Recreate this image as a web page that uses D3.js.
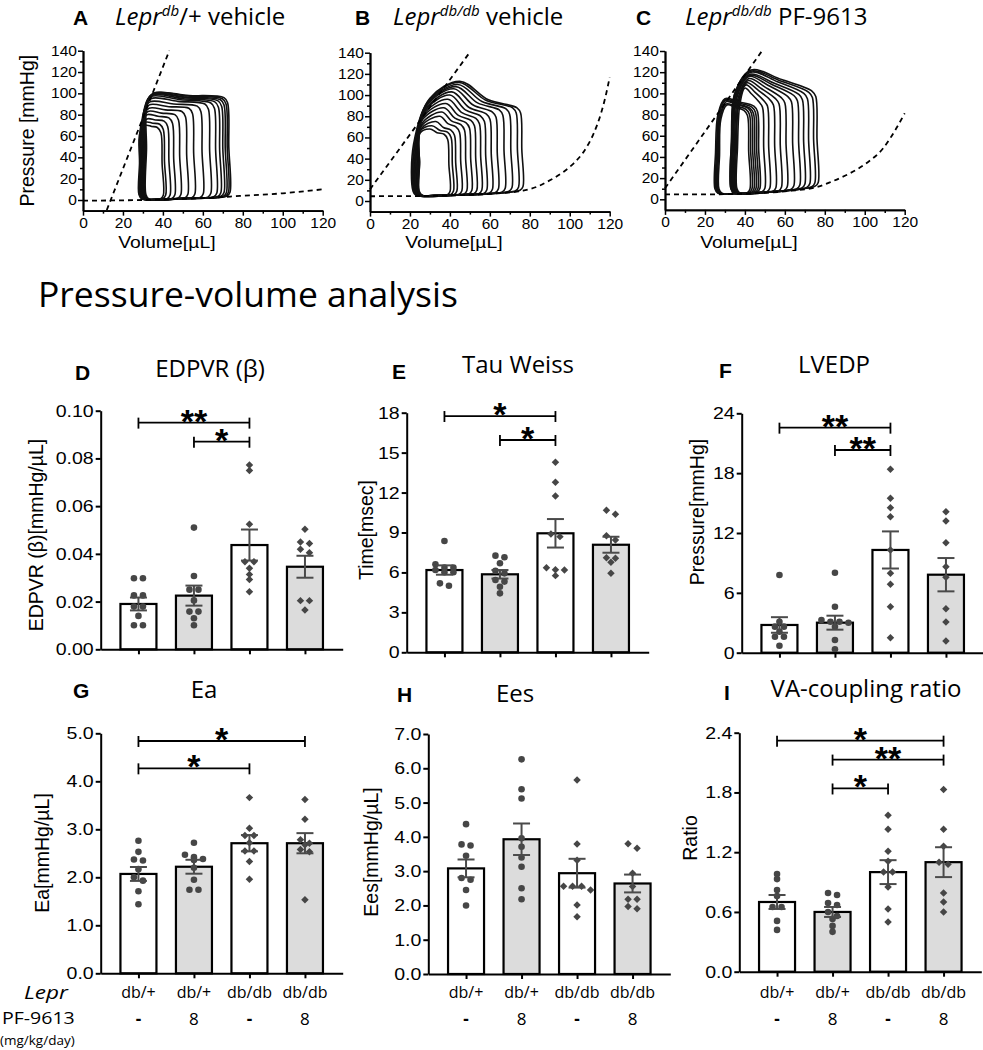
<!DOCTYPE html>
<html><head><meta charset="utf-8">
<script src="https://cdn.jsdelivr.net/npm/d3@7"></script>
<style>body{margin:0;background:#fff}svg{display:block}</style>
</head><body><svg id="c" width="983" height="1050"></svg>
<script>
// ---------------- DATA ----------------
const groupIds = ["g1","g2","g3","g4"];
const leprGenotype = ["db/+","db/+","db/db","db/db"];
const pf9613Dose = ["-","8","-","8"];

// D: EDPVR (beta)
const edpvrValues = [
  [0.0298,0.0298,0.0226,0.0226,0.0179,0.0179,0.014,0.0101,0.0101],
  [0.051,0.0307,0.025,0.025,0.0205,0.0158,0.0158,0.013,0.0101],
  [0.0772,0.0749,0.0524,0.0367,0.0367,0.034,0.0314,0.0293,0.0241],
  [0.0503,0.045,0.0443,0.0419,0.0405,0.0204,0.0204,0.0165]
];
const edpvrMean = [0.019,0.0225,0.0437,0.0346];
const edpvrSem = [0.0027,0.0042,0.0065,0.0046];
const edpvrSig = [[0,2,0.095,"**"],[1,2,0.087,"*"]];
const edpvrTicks = [0,0.02,0.04,0.06,0.08,0.10];

// E: Tau Weiss
const tauValues = [
  [8.36,6.61,6.36,6.36,6.18,6.01,6.01,5.18,5.0],
  [7.26,7.14,6.69,6.13,5.93,5.43,5.31,4.93,4.43],
  [14.27,12.77,11.74,8.89,8.69,6.36,6.21,6.18,5.76],
  [10.67,10.37,8.76,8.44,7.11,7.06,6.76,5.93]
];
const tauMean = [6.18,5.86,8.94,8.08];
const tauSem = [0.35,0.32,1.07,0.6];
const tauSig = [[0,2,17.75,"*"],[1,2,15.95,"*"]];
const tauTicks = [0,3,6,9,12,15,18];

// F: LVEDP
const lvedpValues = [
  [7.79,3.11,2.61,2.61,2.11,1.6,1.6,0.7],
  [8.02,4.61,3.28,3.11,3.11,3.0,2.6,1.27,0.34],
  [18.38,15.48,14.54,13.64,10.3,7.96,6.86,4.61,1.5],
  [14.14,13.2,11.03,8.62,7.56,4.41,3.08,1.17]
];
const lvedpMean = [2.78,3.01,10.3,7.82];
const lvedpSem = [0.78,0.7,1.86,1.67];
const lvedpSig = [[0,2,22.56,"**"],[1,2,20.32,"**"]];
const lvedpTicks = [0,6,12,18,24];

// G: Ea
const eaValues = [
  [2.76,2.53,2.37,2.35,2.17,2.0,1.93,1.71,1.44],
  [2.72,2.47,2.42,2.38,2.36,2.2,1.95,1.74,1.74],
  [3.66,3.02,2.87,2.87,2.72,2.55,2.55,2.33,1.96],
  [3.62,3.21,2.78,2.71,2.68,2.58,2.53,1.53]
];
const eaMean = [2.07,2.22,2.71,2.71];
const eaSem = [0.145,0.145,0.17,0.21];
const eaSig = [[0,3,4.84,"*"],[0,2,4.27,"*"]];
const eaTicks = [0,1,2,3,4,5];

// H: Ees
const eesValues = [
  [4.37,3.78,3.75,3.45,2.8,2.75,2.45,2.0],
  [6.26,5.39,5.12,3.96,3.71,3.4,3.13,2.5,2.18],
  [5.66,3.79,3.32,2.56,2.56,2.56,2.45,2.01,1.67],
  [3.8,3.67,2.94,2.55,2.18,2.18,1.97,1.9]
];
const eesMean = [3.08,3.93,2.94,2.64];
const eesSem = [0.26,0.46,0.42,0.26];
const eesSig = [];
const eesTicks = [0,1,2,3,4,5,6,7];

// I: VA-coupling ratio
const vaValues = [
  [0.98,0.93,0.82,0.76,0.65,0.65,0.51,0.42],
  [0.79,0.77,0.69,0.67,0.6,0.56,0.53,0.46,0.40],
  [1.57,1.43,1.21,1.11,1.0,1.0,0.85,0.63,0.5],
  [1.83,1.43,1.26,1.1,1.08,0.79,0.70,0.60]
];
const vaMean = [0.70,0.60,1.0,1.10];
const vaSem = [0.07,0.05,0.12,0.15];
const vaSig = [[0,3,2.32,"*"],[1,3,2.13,"**"],[1,2,1.84,"*"]];
const vaTicks = [0,0.6,1.2,1.8,2.4];

// A-C: pressure-volume loops  [ESV, EDV, V_shoulder, P_shoulder, V_peak, P_peak, P_topRight]
const volTicks = [0,20,40,60,80,100,120];
const presTicks = [0,20,40,60,80,100,120,140];
const loopsA = [
  [31.5,73.6,32.0,88,35.5,100,96],[31.0,72.8,31.5,87,35.0,100,95],
  [31.0,71.8,31.5,87,35.0,99,94],[30.5,70.6,31.0,86,34.5,99,93],
  [30.5,69.0,31.0,85,34.5,98,92],[30.0,67.0,30.5,84,34.0,97,91],
  [30.0,64.0,30.5,82,34.0,95,90],[29.5,60.2,30.0,80,33.5,92,88],
  [29.5,56.0,30.0,77,33.0,89,86],[29.0,52.5,29.5,74,33.0,86,83],
  [29.0,49.0,29.5,72,32.5,83,80],[28.5,46.0,29.0,70,32.0,80,77],
  [28.5,43.6,29.0,67,32.0,76,74],[28.5,41.4,29.0,65,31.5,73,71],
  [28.0,40.2,28.5,63,31.5,70,68]
];
const espvrA = [[11.9,-9.4],[43.2,140]];
const edpvrCurveA = [[0,-0.6],[20,-0.3],[40,0.5],[60,1.8],[78.6,3.8],[100,6.3],[120,10]];
const loopsB = [
  [21.5,76.6,30,97,45,113,88],[22,74.4,29.5,95,44.5,112,88],
  [22,71.1,29,93,44,110,87],[22.5,67.7,28.5,91,43,108,86],
  [22.5,64.3,28,89,42,106,84],[23,61.3,28,87,41,103,82],
  [23,58.5,27.5,85,40,100,80],[23,56.0,27,82,39,96,78],
  [23.5,53.5,26.5,79,38,92,76],[23.5,51.0,26,76,37,88,74],
  [24,48.5,26,73,36,84,72],[24,46.0,25.5,70,35,80,70],
  [24,43.5,25.5,68,33,75,67],[24.5,41.8,25,66,31,71,65],
  [24.5,40.1,25,64,30,68,63]
];
const espvrB = [[0,11],[50.2,141]];
const edpvrCurveB = [[0,4.5],[20,4.6],[40,5.2],[60,6.8],[76.6,9.7],[83.6,13.5],[90.3,19.8],[97,27.7],[102,35.6],[107,46.6],[112,63.9],[115.4,81.2],[117.9,98.5],[120,116.8]];
const loopsC = [
  [33,76.7,35,100,43,122,102],[33,75,35,100,43,121,101],
  [33.5,72.5,35.5,100,43,120,100],[33.5,70,35.5,98,42.5,118,99],
  [34,67.5,36,98,42.5,117,98],[34,64.5,36,96,42,116,97],
  [34.5,61.2,36.5,95,42,114,96],[35,58.3,37,94,41.5,112,95],
  [35,55.5,37,93,41,110,94],[35.5,52.5,37,92,40.5,108,93],
  [36,50,37.5,90,40,105,92],
  [25,47.5,26.5,80,30,95,88],[25.5,46.5,27,80,30,94,87],
  [26,45.5,27,78,30,93,86],[26,44.5,27.5,78,30.5,92,86],
  [26.5,43.5,27.5,76,30.5,90,85],[27,42.5,28,76,31,89,84]
];
const espvrC = [[0,10.4],[48.3,139.4]];
const edpvrCurveC = [[0,4.7],[20,4.7],[40,5.3],[60,7.5],[76.7,11.9],[83.3,16.6],[92.5,24.5],[100.8,34],[109.2,48.2],[115.8,67],[120,81.2]];

// ---------------- DRAWING ----------------
const ARIAL = "'Liberation Sans', Arial, Helvetica, sans-serif";
const OPEN = "'Open Sans', 'Noto Sans', sans-serif";
const svg = d3.select("#c");

function txt(parent, x, y, s, o = {}) {
  let tr = `translate(${x},${y})`;
  if (o.rot) tr += ` rotate(${o.rot})`;
  if (o.sx) tr += ` scale(${o.sx},1)`;
  const t = parent.append("text").attr("transform", tr)
    .attr("font-family", o.family || ARIAL).attr("font-size", o.size || 16)
    .attr("text-anchor", o.anchor || "start").attr("fill", "#000");
  if (o.weight) t.attr("font-weight", o.weight);
  if (o.style) t.attr("font-style", o.style);
  t.text(s);
  return t;
}

function swarm(vals, y, spacing, tol) {
  const sorted = vals.map(v => ({v, py: y(v)})).sort((a, b) => a.py - b.py);
  const rows = []; let cur = null;
  sorted.forEach(d => {
    if (cur && d.py - cur.start < tol) cur.items.push(d);
    else { cur = {start: d.py, items: [d]}; rows.push(cur); }
  });
  const out = [];
  rows.forEach(r => { const n = r.items.length; r.items.forEach((d, k) => out.push({py: d.py, dx: (k - (n - 1) / 2) * spacing})); });
  return out;
}

function barPanel(p) {
  const g = svg.append("g");
  const x = d3.scalePoint().domain(groupIds).range([p.x0, p.x0 + 242]).padding(0.68);
  const y = d3.scaleLinear().domain([0, p.max]).range([p.y0, p.y1]);
  const bw = 36;
  g.selectAll("rect.bar").data(p.means).join("rect").attr("class", "bar")
    .attr("x", (d, i) => x(groupIds[i]) - bw / 2).attr("width", bw)
    .attr("y", d => y(d)).attr("height", d => p.y0 - y(d))
    .attr("fill", (d, i) => i % 2 ? "#dcdcdc" : "#fff")
    .attr("stroke", "#000").attr("stroke-width", 2.2);
  p.values.forEach((vals, i) => {
    const cx = x(groupIds[i]);
    const pts = swarm(vals, y, 9, 4.5);
    pts.forEach(d => {
      if (i < 2) {
        g.append("circle").attr("cx", cx + d.dx).attr("cy", d.py).attr("r", 3.3).attr("fill", "#464646");
      } else {
        g.append("path").attr("d", d3.symbol(d3.symbolSquare, 28)())
          .attr("transform", `translate(${cx + d.dx},${d.py}) rotate(45)`).attr("fill", "#464646");
      }
    });
  });
  p.means.forEach((m, i) => {
    const cx = x(groupIds[i]), lo = y(m - p.sems[i]), hi = y(m + p.sems[i]);
    const eg = g.append("g").attr("stroke", "#4a4a4a").attr("stroke-width", 2);
    eg.append("line").attr("x1", cx).attr("x2", cx).attr("y1", lo).attr("y2", hi);
    eg.append("line").attr("x1", cx - 8.5).attr("x2", cx + 8.5).attr("y1", lo).attr("y2", lo);
    eg.append("line").attr("x1", cx - 8.5).attr("x2", cx + 8.5).attr("y1", hi).attr("y2", hi);
  });
  p.sig.forEach(s => {
    const xa = x(groupIds[s[0]]), xb = x(groupIds[s[1]]), yy = y(s[2]);
    const sg = g.append("g").attr("stroke", "#000").attr("stroke-width", 1.8);
    sg.append("line").attr("x1", xa).attr("x2", xb).attr("y1", yy).attr("y2", yy);
    sg.append("line").attr("x1", xa).attr("x2", xa).attr("y1", yy - 5).attr("y2", yy + 6);
    sg.append("line").attr("x1", xb).attr("x2", xb).attr("y1", yy - 5).attr("y2", yy + 6);
    txt(g, (xa + xb) / 2, yy + 10, s[3], {size: 34, weight: "bold", anchor: "middle"});
  });
  const yg = g.append("g").attr("transform", `translate(${p.x0},0)`)
    .call(d3.axisLeft(y).tickValues(p.ticks).tickFormat(p.fmt).tickSize(5).tickSizeOuter(0));
  const xg = g.append("g").attr("transform", `translate(0,${p.y0})`)
    .call(d3.axisBottom(x).tickSize(5).tickSizeOuter(0).tickFormat(""));
  [yg, xg].forEach(a => { a.select(".domain").attr("stroke", "#000").attr("stroke-width", 2); a.selectAll(".tick line").attr("stroke", "#000").attr("stroke-width", 2); });
  yg.selectAll("text").attr("font-family", ARIAL).attr("font-size", 17).attr("fill", "#000")
    .attr("x", -7 / 1.15).attr("transform", "scale(1.15,1)");
  txt(g, p.ylx, p.yly, p.ylabel, {rot: -90, size: 19.5, anchor: "middle"});
  txt(g, p.lx, p.ly, p.letter, {size: 21, weight: "bold"});
  txt(g, p.tx, p.ty, p.title, {family: OPEN, size: 24, anchor: "middle"});
  if (p.cats) {
    groupIds.forEach((id, i) => {
      txt(g, x(id), 998, leprGenotype[i], {family: OPEN, size: 16, anchor: "middle"});
      txt(g, x(id), 1025, pf9613Dose[i], {family: OPEN, size: 17, anchor: "middle", weight: i % 2 ? null : "bold"});
    });
  }
}

function pvPanel(p) {
  const g = svg.append("g");
  const x = d3.scaleLinear().domain([0, 120]).range([p.x0, p.x0 + 239.7]);
  const y = d3.scaleLinear().domain([0, 140]).range([p.yz, p.y140]);
  const yBot = y(-10);
  const base = d3.scaleLinear().domain(p.edpvr.map(d => d[0])).range(p.edpvr.map(d => d[1]));
  const line = d3.line().x(d => x(d[0])).y(d => y(d[1]));
  const loopLine = d3.line().x(d => x(d[0])).y(d => y(d[1])).curve(d3.curveCatmullRomClosed.alpha(0.5));
  p.loops.forEach(l => {
    const [esv, edv, vL, pL, vPk, pPk, pR] = l;
    const trV = edv - 3;
    const pts = [
      [esv + 1.5, base(esv) + 0.8],
      [(esv + edv) / 2, base((esv + edv) / 2) + 0.4],
      [edv - 1.5, base(edv) + 0.5],
      [edv, base(edv) + 4],
      [edv - 0.6, (base(edv) + pR) / 2],
      [edv - 1.2, pR - 5],
      [trV, pR],
      [(trV + vPk) / 2, pR + (pPk - pR) * p.bow],
      [vPk, pPk],
      [vL, pL],
      [esv + 0.3, pL * 0.55],
      [esv, base(esv) + 5]
    ];
    g.append("path").attr("d", loopLine(pts)).attr("fill", "none").attr("stroke", "#111").attr("stroke-width", 1.6);
  });
  g.append("path").attr("d", line(p.espvr)).attr("fill", "none").attr("stroke", "#000").attr("stroke-width", 1.8).attr("stroke-dasharray", "5,4");
  g.append("path").attr("d", line.curve(d3.curveMonotoneX)(p.edpvr)).attr("fill", "none").attr("stroke", "#000").attr("stroke-width", 1.8).attr("stroke-dasharray", "5,4");
  const yAll = d3.scaleLinear().domain([-10, 140]).range([yBot, p.y140]);
  const ya = g.append("g").attr("transform", `translate(${p.x0},0)`)
    .call(d3.axisLeft(yAll).tickValues(presTicks).tickSize(5).tickSizeOuter(0));
  const ym = g.append("g").attr("transform", `translate(${p.x0},0)`)
    .call(d3.axisLeft(yAll).tickValues([10,30,50,70,90,110,130]).tickSize(3).tickSizeOuter(0).tickFormat(""));
  const xa = g.append("g").attr("transform", `translate(0,${yBot})`)
    .call(d3.axisBottom(x).tickValues(volTicks).tickSize(5).tickSizeOuter(0));
  const xm = g.append("g").attr("transform", `translate(0,${yBot})`)
    .call(d3.axisBottom(x).tickValues([10,30,50,70,90,110]).tickSize(3).tickSizeOuter(0).tickFormat(""));
  [ya, ym, xa, xm].forEach(a => { a.select(".domain").attr("stroke", "#000").attr("stroke-width", 1.8); a.selectAll(".tick line").attr("stroke", "#000").attr("stroke-width", 1.5); });
  ya.selectAll("text").attr("font-family", ARIAL).attr("font-size", 14).attr("fill", "#000").attr("x", -6 / 1.11).attr("transform", "scale(1.11,1)");
  xa.selectAll("text").attr("font-family", ARIAL).attr("font-size", 14).attr("fill", "#000").attr("y", 7).attr("x", 0).attr("transform", "scale(1.11,1)");
  txt(g, x(42), 248, "Volume[µL]", {size: 17, anchor: "middle", sx: 1.14});
  txt(g, p.lx, 25, p.letter, {size: 21, weight: "bold"});
  const t = g.append("text").attr("x", p.tx).attr("y", 25).attr("font-family", OPEN).attr("font-size", 24).attr("fill", "#000");
  t.append("tspan").attr("font-style", "italic").text("Lepr");
  t.append("tspan").attr("font-style", "italic").attr("font-size", 15).attr("dy", -9).text(p.sup);
  t.append("tspan").attr("dy", 9).text(p.rest);
  if (p.ylabel) txt(g, 34, y(65), p.ylabel, {rot: -90, size: 19.5, anchor: "middle"});
}

pvPanel({x0: 83, yz: 200, y140: 50.7, loops: loopsA, espvr: espvrA, edpvr: edpvrCurveA, bow: 0.5, letter: "A", lx: 73, tx: 115, sup: "db", rest: "/+ vehicle", ylabel: "Pressure [mmHg]"});
pvPanel({x0: 370, yz: 201, y140: 52.7, loops: loopsB, espvr: espvrB, edpvr: edpvrCurveB, bow: 0.3, letter: "B", lx: 355, tx: 393, sup: "db/db", rest: " vehicle"});
pvPanel({x0: 665, yz: 199.3, y140: 51, loops: loopsC, espvr: espvrC, edpvr: edpvrCurveC, bow: 0.55, letter: "C", lx: 636, tx: 685, sup: "db/db", rest: " PF-9613"});

txt(svg, 38, 307, "Pressure-volume analysis", {family: OPEN, size: 35.5});

const f2 = d3.format(".2f"), f1 = d3.format(".1f"), f0 = d3.format("d");
barPanel({x0: 100.7, y0: 649.3, y1: 410.7, max: 0.10, ticks: edpvrTicks, fmt: f2, values: edpvrValues, means: edpvrMean, sems: edpvrSem, sig: edpvrSig,
  ylabel: "EDPVR (β)[mmHg/µL]", ylx: 43, yly: 535, letter: "D", lx: 75, ly: 380, title: "EDPVR (β)", tx: 210, ty: 377});
barPanel({x0: 406.7, y0: 652.3, y1: 412.7, max: 18, ticks: tauTicks, fmt: f0, values: tauValues, means: tauMean, sems: tauSem, sig: tauSig,
  ylabel: "Time[msec]", ylx: 373, yly: 530, letter: "E", lx: 392, ly: 379, title: "Tau Weiss", tx: 518, ty: 373});
barPanel({x0: 741.7, y0: 652.7, y1: 413.3, max: 24, ticks: lvedpTicks, fmt: f0, values: lvedpValues, means: lvedpMean, sems: lvedpSem, sig: lvedpSig,
  ylabel: "Pressure[mmHg]", ylx: 704, yly: 512, letter: "F", lx: 719, ly: 378, title: "LVEDP", tx: 834, ty: 373});
barPanel({x0: 100.7, y0: 973.3, y1: 733.3, max: 5, ticks: eaTicks, fmt: f1, values: eaValues, means: eaMean, sems: eaSem, sig: eaSig,
  ylabel: "Ea[mmHg/µL]", ylx: 49, yly: 853, letter: "G", lx: 73, ly: 698, title: "Ea", tx: 204, ty: 698, cats: true});
barPanel({x0: 428.3, y0: 974, y1: 734, max: 7, ticks: eesTicks, fmt: f1, values: eesValues, means: eesMean, sems: eesSem, sig: eesSig,
  ylabel: "Ees[mmHg/µL]", ylx: 378, yly: 852, letter: "H", lx: 397, ly: 702, title: "Ees", tx: 515, ty: 702, cats: true});
barPanel({x0: 739.3, y0: 971.7, y1: 732.7, max: 2.4, ticks: vaTicks, fmt: f1, values: vaValues, means: vaMean, sems: vaSem, sig: vaSig,
  ylabel: "Ratio", ylx: 697, yly: 838, letter: "I", lx: 724, ly: 700, title: "VA-coupling ratio", tx: 866, ty: 697, cats: true});

txt(svg, 24, 999, "Lepr", {family: OPEN, size: 18, style: "italic", sx: 1.25});
txt(svg, 2, 1024, "PF-9613", {family: OPEN, size: 17, sx: 1.15});
txt(svg, 0, 1045, "(mg/kg/day)", {family: OPEN, size: 13.5});
</script></body></html>
